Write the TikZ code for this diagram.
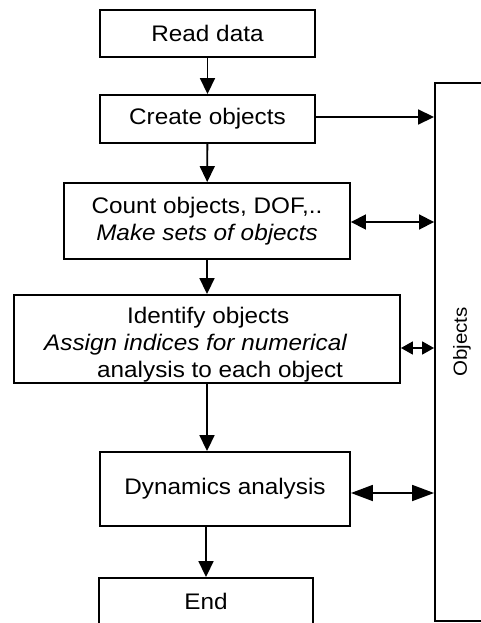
\documentclass[tikz,border=0pt]{standalone}
\usepackage{fontspec}
\setmainfont{Liberation Sans}[FakeStretch=1.08]
\usetikzlibrary{arrows.meta}
\begin{document}
\begin{tikzpicture}[x=1pt,y=-1pt,
  txt/.style={font=\fontsize{22.5}{27}\selectfont},
  box/.style={draw,rectangle,line width=1.9pt,inner sep=0pt,txt},
  arr/.style={line width=1.8pt,-{Triangle[length=16pt,width=15pt]}},
  dbl/.style={line width=1.8pt,{Triangle[length=15pt,width=15pt]}-{Triangle[length=15pt,width=15pt]}},
  dbllong/.style={line width=1.8pt,{Triangle[length=22pt,width=16pt]}-{Triangle[length=22pt,width=16pt]}},
  dblshort/.style={line width=1.8pt,{Triangle[length=12pt,width=13pt]}-{Triangle[length=12pt,width=13pt]}}]
\useasboundingbox (0,0) rectangle (481,623);
\clip (0,0) rectangle (481,623);

% process boxes
\node[box,minimum width=215pt,minimum height=47pt] (read) at (207.5,33.5) {Read data};
\node[box,minimum width=215pt,minimum height=48pt] (create) at (207.5,119) {Create objects};
\node[box,minimum width=286pt,minimum height=76pt,align=center] (count) at (207,221)
  {Count objects, DOF,..\\\itshape Make sets of objects};
\node[box,minimum width=386pt,minimum height=88pt] (identify) at (207,339) {};
\node[txt,anchor=base west,align=left,inner sep=0pt] (idtext) at (44,377)
  {\rule{83pt}{0pt}Identify objects\\
   \itshape Assign indices for numerical\\
   \upshape\rule{53pt}{0pt}analysis to each object};
\node[box,minimum width=250pt,minimum height=74pt] (dyn) at (225,489) {Dynamics analysis};
\node[box,minimum width=214pt,minimum height=80pt] (end) at (206,618) {};
\node[txt,anchor=base] (endtext) at (206,609) {End};

% object store on the right
\node[box,minimum width=70pt,minimum height=538pt] (objects) at (470,352) {};
\node[txt,font=\fontsize{19}{22}\selectfont,rotate=90] (objlabel) at (462,342) {Objects};

% flow
\draw[arr] (read) -- (create);
\draw[arr] (create) -- (count);
\draw[arr] (count) -- (identify);
\draw[arr] (identify.south) -- (identify.south |- dyn.north);
\draw[arr] (end.north |- dyn.south) -- (end.north);

% links to the object store
\draw[arr] ([yshift=2pt]create.east) -- ([yshift=2pt]create.east -| objects.west);
\draw[dbl] ([yshift=-1pt]count.east) -- ([yshift=-1pt]count.east -| objects.west);
\draw[dblshort] ([yshift=-9pt]identify.east) -- ([yshift=-9pt]identify.east -| objects.west);
\draw[dbllong] ([yshift=-4pt]dyn.east) -- ([yshift=-4pt]dyn.east -| objects.west);
\end{tikzpicture}
\end{document}
